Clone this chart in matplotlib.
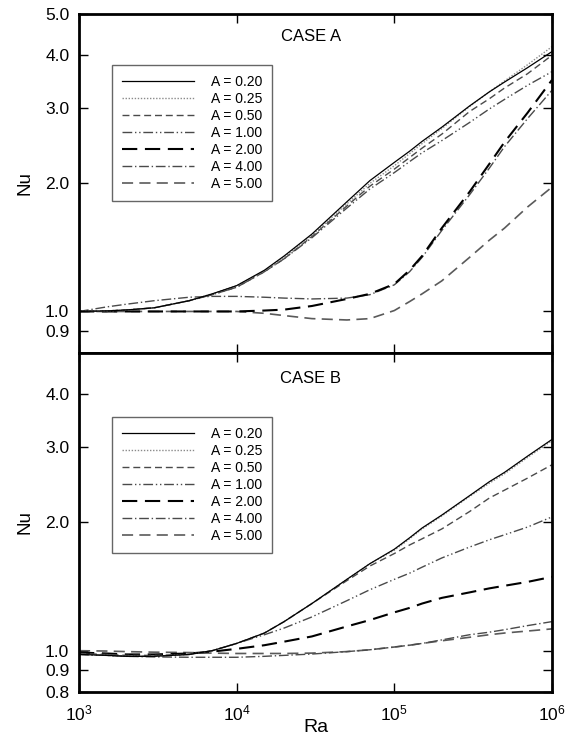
import matplotlib
matplotlib.use("Agg")
import matplotlib.pyplot as plt
from matplotlib.ticker import FixedLocator, FixedFormatter, NullLocator

plt.rcParams['font.family'] = ['Liberation Sans', 'DejaVu Sans']
plt.rcParams['lines.scale_dashes'] = False

# ---------------- data ----------------
ra = [1e3, 1.5e3, 2e3, 3e3, 5e3, 7e3, 1e4, 1.5e4, 2e4, 3e4, 5e4, 7e4,
      1e5, 1.25e5, 1.5e5, 2e5, 3e5, 4e5, 5e5, 7e5, 1e6]
labels = ["A = 0.20", "A = 0.25", "A = 0.50", "A = 1.00", "A = 2.00", "A = 4.00", "A = 5.00"]

# CASE A
a020 = [1.00, 1.003, 1.008, 1.02, 1.06, 1.10, 1.15, 1.25, 1.35, 1.52, 1.81, 2.03,
        2.24, 2.38, 2.51, 2.71, 3.04, 3.28, 3.46, 3.74, 4.08]
a025 = [1.00, 1.003, 1.008, 1.02, 1.06, 1.10, 1.15, 1.245, 1.34, 1.51, 1.79, 2.00,
        2.20, 2.35, 2.48, 2.69, 3.03, 3.28, 3.48, 3.80, 4.19]
a050 = [1.00, 1.003, 1.008, 1.02, 1.06, 1.095, 1.14, 1.24, 1.33, 1.50, 1.77, 1.97,
        2.16, 2.30, 2.42, 2.61, 2.95, 3.16, 3.35, 3.62, 4.00]
a100 = [1.00, 1.003, 1.008, 1.02, 1.06, 1.095, 1.14, 1.24, 1.33, 1.49, 1.75, 1.94,
        2.12, 2.25, 2.36, 2.52, 2.78, 2.99, 3.15, 3.40, 3.66]
a200 = [1.00, 1.00, 1.00, 1.00, 1.00, 1.00, 1.00, 1.005, 1.01, 1.03, 1.07, 1.10,
        1.16, 1.25, 1.35, 1.57, 1.91, 2.22, 2.50, 2.93, 3.50]
a400 = [1.00, 1.025, 1.04, 1.06, 1.08, 1.085, 1.085, 1.08, 1.075, 1.07, 1.075, 1.095,
        1.155, 1.24, 1.34, 1.55, 1.88, 2.17, 2.44, 2.84, 3.31]
a500 = [1.00, 1.00, 1.00, 1.00, 1.00, 1.00, 1.00, 0.99, 0.978, 0.962, 0.955, 0.962,
        1.005, 1.055, 1.10, 1.18, 1.34, 1.47, 1.57, 1.76, 1.96]

# CASE B
b020 = [0.98, 0.975, 0.97, 0.97, 0.98, 1.00, 1.04, 1.10, 1.17, 1.29, 1.47, 1.60,
        1.73, 1.84, 1.94, 2.08, 2.31, 2.49, 2.62, 2.86, 3.13]
b025 = [0.98, 0.975, 0.97, 0.97, 0.98, 1.00, 1.04, 1.10, 1.17, 1.29, 1.47, 1.60,
        1.72, 1.83, 1.93, 2.07, 2.30, 2.47, 2.60, 2.84, 3.11]
b050 = [0.985, 0.98, 0.975, 0.975, 0.98, 1.00, 1.04, 1.10, 1.17, 1.29, 1.46, 1.58,
        1.69, 1.77, 1.83, 1.93, 2.12, 2.28, 2.38, 2.54, 2.73]
b100 = [0.98, 0.975, 0.97, 0.97, 0.98, 1.00, 1.04, 1.09, 1.13, 1.20, 1.31, 1.39,
        1.47, 1.52, 1.57, 1.65, 1.75, 1.82, 1.87, 1.95, 2.06]
b200 = [0.99, 0.985, 0.98, 0.98, 0.985, 0.995, 1.01, 1.03, 1.05, 1.08, 1.14, 1.18,
        1.23, 1.26, 1.29, 1.33, 1.37, 1.40, 1.42, 1.45, 1.49]
b400 = [0.98, 0.975, 0.97, 0.967, 0.965, 0.965, 0.965, 0.97, 0.975, 0.982, 0.995, 1.005,
        1.02, 1.03, 1.04, 1.06, 1.09, 1.105, 1.12, 1.145, 1.17]
b500 = [1.00, 0.998, 0.995, 0.992, 0.99, 0.987, 0.985, 0.985, 0.985, 0.987, 0.995, 1.005,
        1.02, 1.03, 1.04, 1.055, 1.075, 1.09, 1.10, 1.112, 1.125]

case_a = [a020, a025, a050, a100, a200, a400, a500]
case_b = [b020, b025, b050, b100, b200, b400, b500]

yticks_top = [0.9, 1.0, 2.0, 3.0, 4.0, 5.0]
yticks_bot = [0.8, 0.9, 1.0, 2.0, 3.0, 4.0]
xticks = [1e3, 1e4, 1e5, 1e6]
xticklabels = [r"$\mathregular{10^{3}}$", r"$\mathregular{10^{4}}$",
               r"$\mathregular{10^{5}}$", r"$\mathregular{10^{6}}$"]

# ---------------- styles ----------------
styles = [
    dict(color="black", lw=0.9, ls="-"),
    dict(color="#8a8a8a", lw=1.0, ls=(0, (1.0, 1.2))),
    dict(color="#4a4a4a", lw=1.0, ls=(0, (5, 2.8))),
    dict(color="#4a4a4a", lw=1.0, ls=(0, (7, 2, 1, 2, 1, 2))),
    dict(color="black", lw=1.5, ls=(0, (11, 5.5))),
    dict(color="#4a4a4a", lw=1.0, ls=(0, (7, 2, 1, 2))),
    dict(color="#5a5a5a", lw=1.2, ls=(0, (8, 4.5))),
]

fig = plt.figure(figsize=(5.66, 7.41), dpi=100)
W, H = 566.0, 741.0
ax1 = fig.add_axes([79 / W, 1 - 352.7 / H, 473 / W, 338.7 / H])
ax2 = fig.add_axes([79 / W, 1 - 692 / H, 473 / W, 339.3 / H])


def setup(ax, data, title, yt, show_x, leg_top, title_y):
    order = [6, 5, 4, 3, 2, 1, 0]
    lines = [None] * 7
    for i in order:
        s = styles[i]
        (ln,) = ax.plot(ra, data[i], color=s["color"], lw=s["lw"], ls=s["ls"], label=labels[i])
        lines[i] = ln
    ax.set_xscale("log")
    ax.set_yscale("log")
    ax.set_xlim(1e3, 1e6)
    ax.set_ylim(0.8, 5.0)
    ax.xaxis.set_major_locator(FixedLocator(xticks))
    ax.xaxis.set_minor_locator(NullLocator())
    ax.yaxis.set_minor_locator(NullLocator())
    ax.yaxis.set_major_locator(FixedLocator(yt))
    ax.yaxis.set_major_formatter(FixedFormatter(["%.1f" % v for v in yt]))
    if show_x:
        ax.xaxis.set_major_formatter(FixedFormatter(xticklabels))
        ax.set_xlabel("Ra", fontsize=14, labelpad=-3)
    else:
        ax.xaxis.set_major_formatter(FixedFormatter(["", "", "", ""]))
    ax.tick_params(which="major", direction="in", length=6.5, width=1.0,
                   top=True, right=True, labelsize=12.5, pad=7)
    ax.tick_params(axis="x", pad=8)
    for sp in ax.spines.values():
        sp.set_linewidth(2.0)
    ax.set_ylabel("Nu", fontsize=13.5, labelpad=8)
    ax.text(0.49, title_y, title, transform=ax.transAxes, ha="center", va="center", fontsize=12)
    leg = ax.legend(handles=lines, loc="upper left", bbox_to_anchor=(0.0698, leg_top),
                    borderaxespad=0, fontsize=10, handlelength=5.2, handletextpad=1.2,
                    labelspacing=0.22, borderpad=0.7, fancybox=False, framealpha=1,
                    edgecolor="#666666")
    leg.get_frame().set_linewidth(1.0)


setup(ax1, case_a, "CASE A", yticks_top, False, 0.8494, 0.935)
setup(ax2, case_b, "CASE B", yticks_bot, True, 0.8105, 0.925)

fig.savefig("out.png", dpi=100)
